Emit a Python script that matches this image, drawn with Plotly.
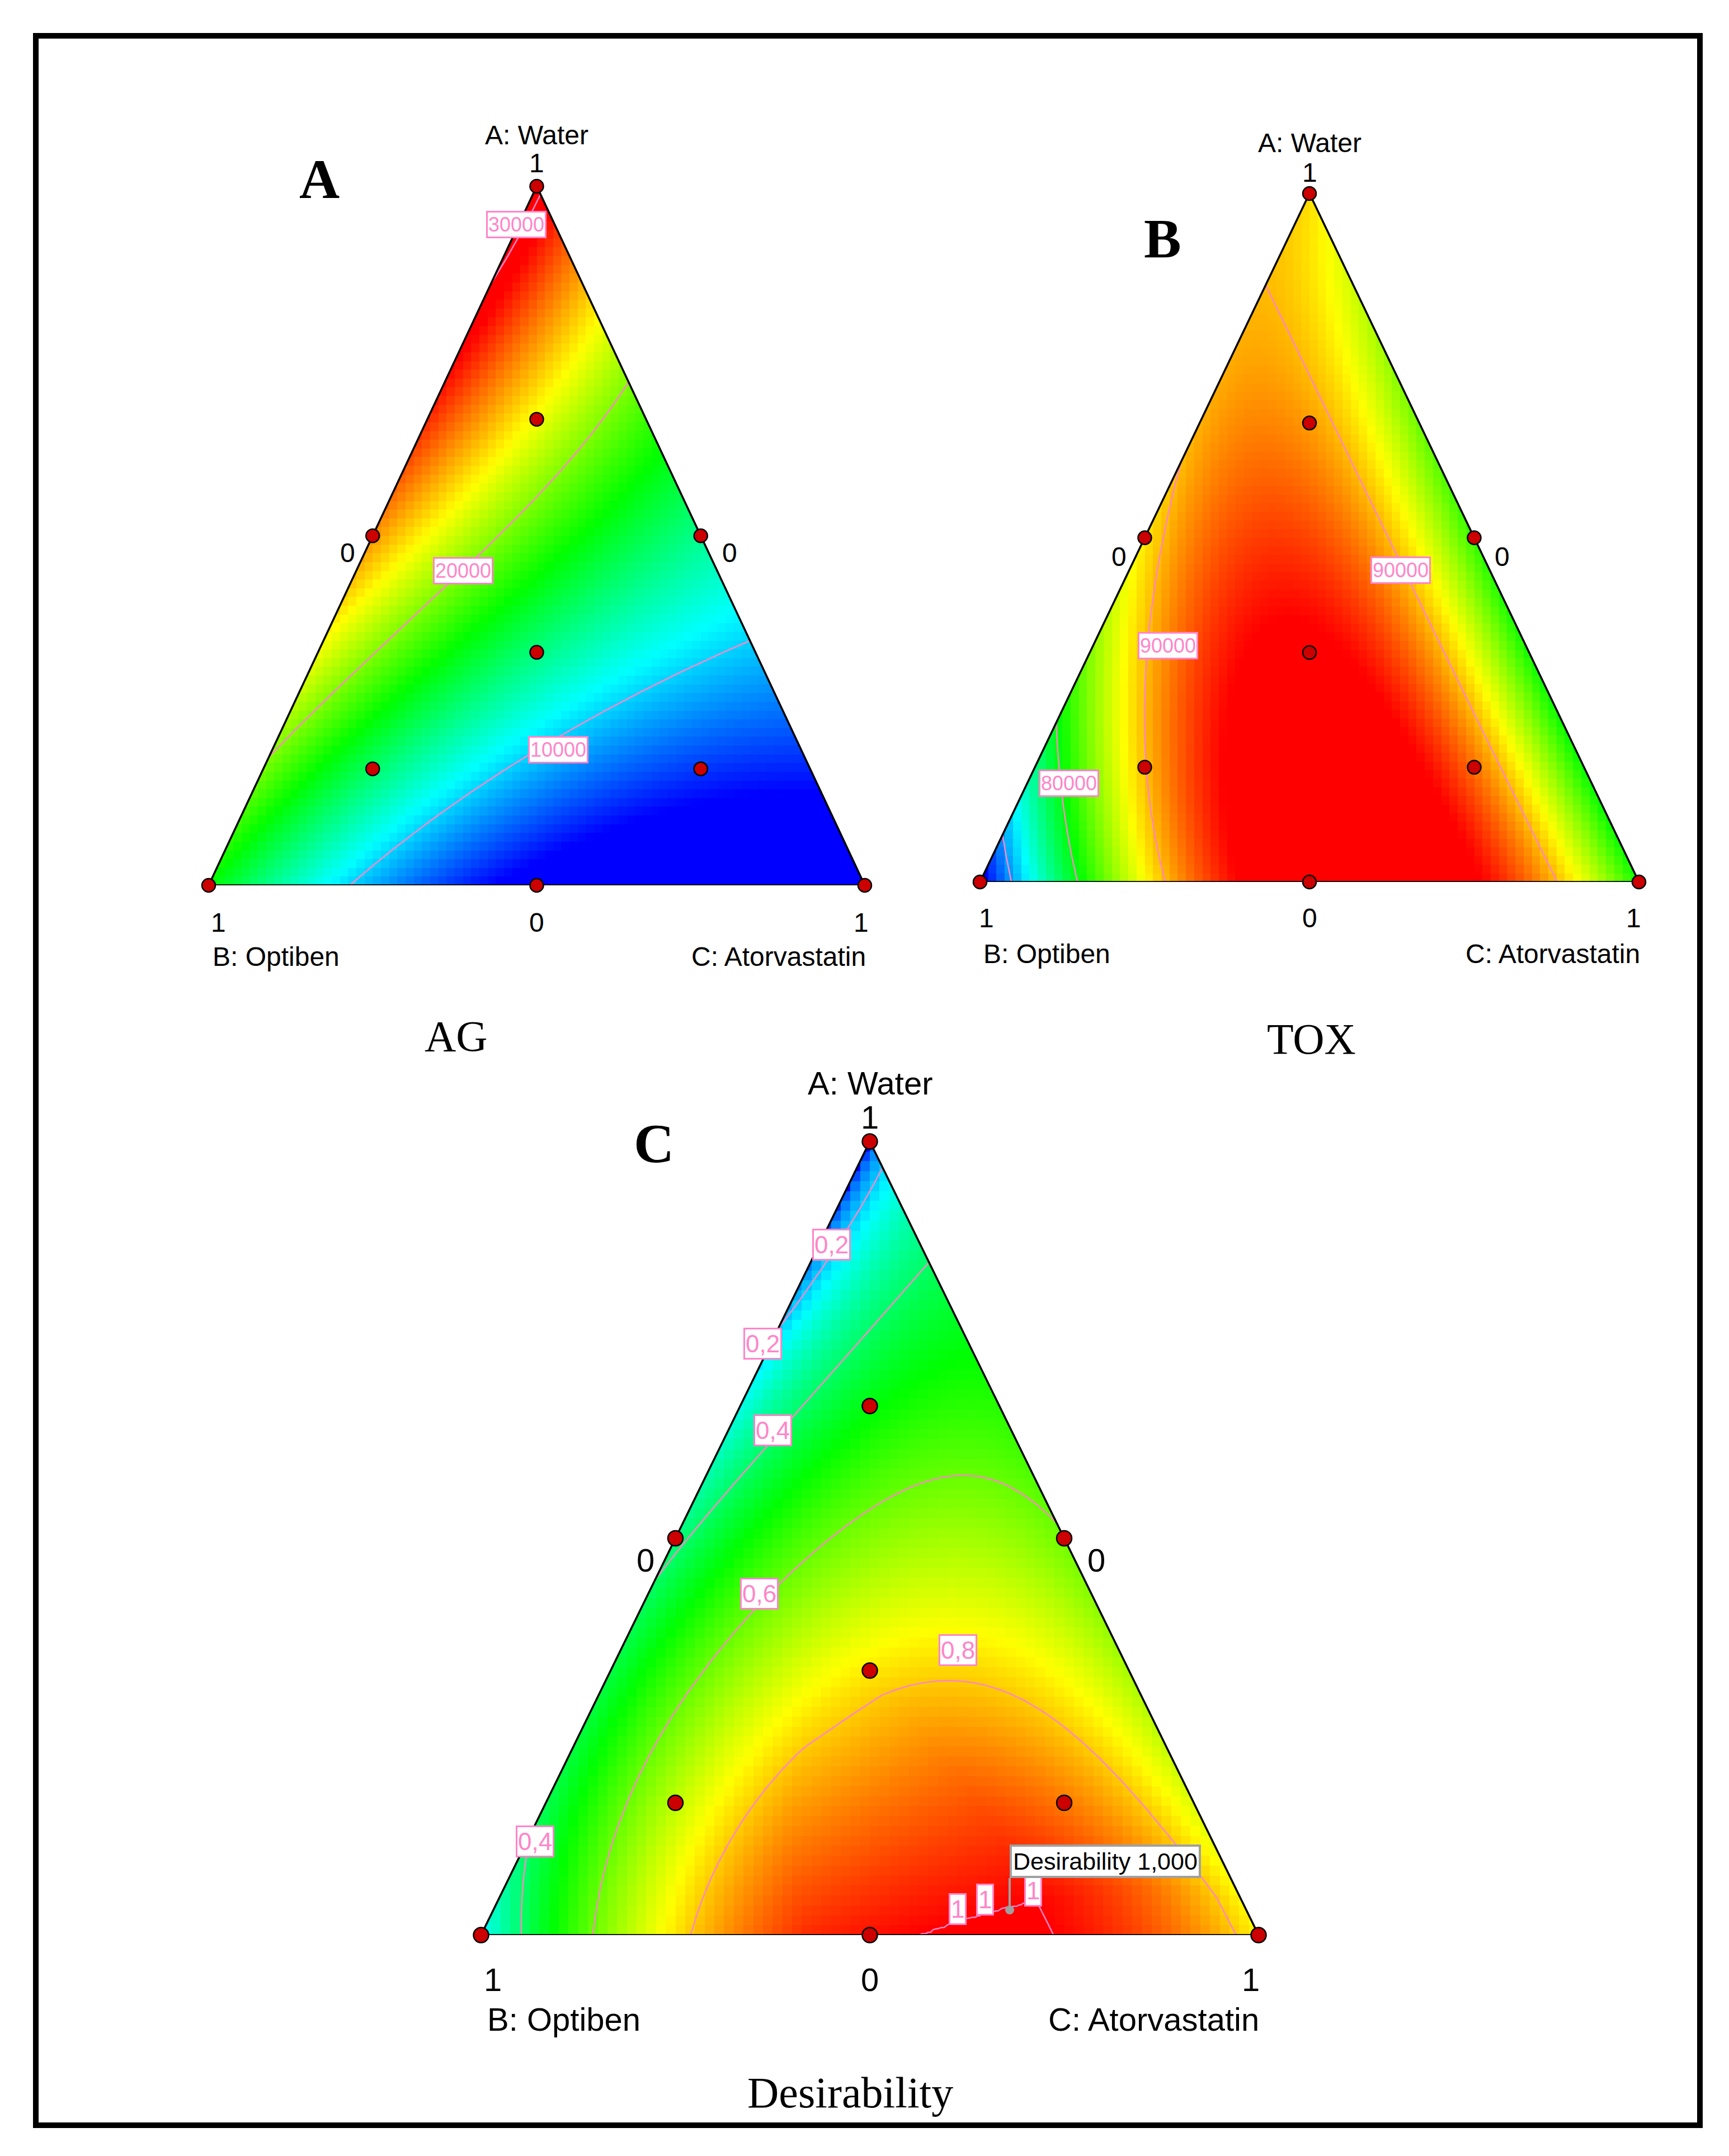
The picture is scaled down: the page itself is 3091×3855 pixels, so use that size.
import numpy as np
import plotly.graph_objects as go

W, H = 3091, 3855

# ---------------------------------------------------------------- data
components = ["A: Water", "B: Optiben", "C: Atorvastatin"]

# mixture design points (red dots): vertices, edge mid-points, centroid, axial blends
design_A = [1, 0, 0, 0.5, 0.5, 0, 1/3, 2/3, 1/6, 1/6]
design_B = [0, 1, 0, 0.5, 0, 0.5, 1/3, 1/6, 2/3, 1/6]
design_C = [0, 0, 1, 0, 0.5, 0.5, 1/3, 1/6, 1/6, 2/3]

# Scheffe cubic mixture models, coefficients estimated from the plotted surfaces
model_terms = ["A", "B", "C", "AB", "AC", "BC", "ABC", "AB(A-B)", "AC(A-C)", "BC(B-C)"]
AG_coef = [30500, 17000, 2000, 7229, -10230, -22364, 10000, 5995, -5160, 0]
TOX_coef = [89000, 64500, 81000, 47551, -12000, 102654, 70000, -14468, 0, 1277]

# desirability goals (kind, lower, upper)
AG_goal = ("minimize", 3000, 30500)
TOX_goal = ("maximize", 60000, 96500)

AG_levels = [10000, 20000, 30000]
TOX_levels = [70000, 80000, 90000]
D_levels = [0.2, 0.4, 0.6, 0.8, 1.0]

AG_label_text = ["30000", "20000", "10000"]
TOX_label_text = ["90000", "90000", "80000"]
D_label_text = ["0,2", "0,2", "0,4", "0,6", "0,8", "0,4", "1", "1", "1"]

vertex_tick = "1"
mid_tick = "0"
panel_titles = ["AG", "TOX", "Desirability"]
panel_letters = ["A", "B", "C"]

optimum_A, optimum_C = 0.0317, 0.664
optimum_text = "Desirability 1,000"

# ---------------------------------------------------------------- models
def model_terms_values(A, B, C):
    return [A, B, C, A * B, A * C, B * C, A * B * C,
            A * B * (A - B), A * C * (A - C), B * C * (B - C)]


def make_model(coef):
    def f(A, B, C):
        return sum(c * t for c, t in zip(coef, model_terms_values(A, B, C)))
    return f


AG_f = make_model(AG_coef)
TOX_f = make_model(TOX_coef)


def desir(val, goal):
    kind, lo, hi = goal
    d = (hi - val) / (hi - lo) if kind == "minimize" else (val - lo) / (hi - lo)
    return np.clip(d, 0.0, 1.0)


def D_f(A, B, C):
    return np.sqrt(desir(AG_f(A, B, C), AG_goal) * desir(TOX_f(A, B, C), TOX_goal))


# ---------------------------------------------------------------- contour tracing on a triangular lattice
def contour_xy(fun, level, N=150):
    idx = [(i, j) for i in range(N + 1) for j in range(N + 1 - i)]
    Aa = np.array([p[0] / N for p in idx])
    Ca = np.array([p[1] / N for p in idx])
    vals = dict(zip(idx, fun(Aa, 1 - Aa - Ca, Ca)))
    segs = []

    def tri(p, q, r):
        pts = []
        for a, b in ((p, q), (q, r), (r, p)):
            if (vals[a] < level) != (vals[b] < level):
                pts.append(tuple(sorted((a, b))))
        if len(pts) == 2:
            segs.append(pts)

    for i in range(N):
        for j in range(N - i):
            tri((i, j), (i + 1, j), (i, j + 1))
            if i + j + 1 < N:
                tri((i + 1, j), (i, j + 1), (i + 1, j + 1))

    adj = {}
    for k, (e1, e2) in enumerate(segs):
        adj.setdefault(e1, []).append(k)
        adj.setdefault(e2, []).append(k)
    used = [False] * len(segs)

    def walk(start, k):
        chain = [start]
        cur = start
        while k is not None:
            used[k] = True
            e1, e2 = segs[k]
            nxt = e2 if e1 == cur else e1
            chain.append(nxt)
            cur = nxt
            k = next((m for m in adj[cur] if not used[m]), None)
        return chain

    chains = []
    for e, ks in adj.items():
        if len(ks) == 1 and not used[ks[0]]:
            chains.append(walk(e, ks[0]))
    for k in range(len(segs)):
        if not used[k]:
            chains.append(walk(segs[k][0], k))

    xs, ys = [], []
    for ch in chains:
        for a, b in ch:
            va, vb = vals[a], vals[b]
            t = (level - va) / (vb - va)
            A_ = (a[0] + t * (b[0] - a[0])) / N
            C_ = (a[1] + t * (b[1] - a[1])) / N
            xs.append(C_ + A_ / 2)
            ys.append(A_)
        xs.append(None)
        ys.append(None)
    return xs, ys


# ---------------------------------------------------------------- panel layout (pixels)
RAINBOW = [[0, "#0000FF"], [0.25, "#00FFFF"], [0.5, "#00FF00"], [0.75, "#FFFF00"], [1, "#FF0000"]]
PINK = "#FF85C8"
SANS = "Liberation Sans, Arial, sans-serif"
SERIF = "Liberation Serif, Times New Roman, serif"

PANELS = [
    dict(fun=AG_f, levels=AG_levels, top_level=None, zr=(5000, 29000), box=(365, 1538, 325, 1575),
         font=48, marker=24, lab_font=36,
         labels=AG_label_text, lab_x=[0.469, 0.388, 0.533], lab_y=[0.945, 0.450, 0.194],
         top1=42, topname=92, mid=(-45, 52, -30), bot=(-66, 17, -7), comp=(-127, 5, 4),
         letter=(563, 312), title=(807, 1844)),
    dict(fun=TOX_f, levels=TOX_levels, top_level=None, zr=(65500, 95500), box=(1744, 2922, 338, 1569),
         font=48, marker=24, lab_font=36,
         labels=TOX_label_text, lab_x=[0.638, 0.285, 0.135], lab_y=[0.453, 0.343, 0.143],
         top1=38, topname=91, mid=(-46, 50, -34), bot=(-64, 12, -10), comp=(-128, 4, 4),
         letter=(2070, 418), title=(2336, 1849)),
    dict(fun=D_f, levels=D_levels, top_level=0.999, zr=(0, 1), box=(852, 2242, 2033, 3452),
         font=58, marker=27, lab_font=44,
         labels=D_label_text,
         lab_x=[0.451, 0.362, 0.375, 0.358, 0.613, 0.0697, 0.613, 0.648, 0.710],
         lab_y=[0.870, 0.745, 0.636, 0.430, 0.359, 0.118, 0.033, 0.045, 0.056],
         top1=44, topname=105, mid=(-54, 57, -39), bot=(-79, 21, -14), comp=(-150, 9, 3),
         letter=(1161, 2036), title=(1512, 3733)),
]

fig = go.Figure()
annotations = []
NX = NY = 80
gx = (np.arange(NX) + 0.5) / NX
gy = (np.arange(NY) + 0.5) / NY
GX, GY = np.meshgrid(gx, gy)

for i, p in enumerate(PANELS):
    sfx = "" if i == 0 else str(i + 1)
    xa, ya = "x" + sfx, "y" + sfx
    x0, x1, ytop, ybot = p["box"]
    fig.update_layout(**{
        "xaxis" + sfx: dict(domain=[x0 / W, x1 / W], range=[0, 1], visible=False,
                            fixedrange=True, anchor=ya),
        "yaxis" + sfx: dict(domain=[1 - ybot / H, 1 - ytop / H], range=[0, 1], visible=False,
                            fixedrange=True, anchor=xa),
    })

    # heat map of the response surface
    Ag = GY
    Cg = GX - GY / 2
    Bg = 1 - Ag - Cg
    Z = p["fun"](Ag, Bg, Cg)
    fig.add_trace(go.Heatmap(x=gx, y=gy, z=Z, colorscale=RAINBOW, zmin=p["zr"][0], zmax=p["zr"][1],
                             showscale=False, hoverinfo="skip", xaxis=xa, yaxis=ya))

    # white masks outside the simplex
    for mx, my in (([0, 0.5, 0.5, -0.2, -0.2, 0], [0, 1, 1.2, 1.2, 0, 0]),
                   ([1, 0.5, 0.5, 1.2, 1.2, 1], [0, 1, 1.2, 1.2, 0, 0])):
        fig.add_trace(go.Scatter(x=mx, y=my, fill="toself", fillcolor="white", mode="lines",
                                 line=dict(width=0, color="white"), hoverinfo="skip",
                                 showlegend=False, xaxis=xa, yaxis=ya))

    # contour lines
    for lev in p["levels"]:
        draw_lev = lev
        if p["top_level"] is not None and lev >= 1.0:
            draw_lev = p["top_level"]
        cx, cy = contour_xy(p["fun"], draw_lev)
        fig.add_trace(go.Scatter(x=cx, y=cy, mode="lines", line=dict(color=PINK, width=2.5),
                                 hoverinfo="skip", showlegend=False, cliponaxis=False,
                                 xaxis=xa, yaxis=ya))

    # triangle outline
    fig.add_trace(go.Scatter(x=[0, 1, 0.5, 0], y=[0, 0, 1, 0], mode="lines",
                             line=dict(color="black", width=3.5), hoverinfo="skip",
                             showlegend=False, cliponaxis=False, xaxis=xa, yaxis=ya))

    # design points
    dA = np.array(design_A)
    dC = np.array(design_C)
    fig.add_trace(go.Scatter(x=dC + dA / 2, y=dA, mode="markers",
                             marker=dict(size=p["marker"], color="#CC0000",
                                         line=dict(color="black", width=2.5)),
                             hoverinfo="skip", showlegend=False, cliponaxis=False,
                             xaxis=xa, yaxis=ya))

    fs = p["font"]

    def tx(text, x, y, xs=0, ys=0, xanchor="center", size=fs, **kw):
        annotations.append(dict(text=text, x=x, y=y, xref=xa, yref=ya, xshift=xs, yshift=ys,
                                showarrow=False, xanchor=xanchor, yanchor="middle",
                                font=dict(family=SANS, size=size, color="black"), **kw))

    # axis texts
    tx(vertex_tick, 0.5, 1, ys=p["top1"])
    tx(components[0], 0.5, 1, ys=p["topname"])
    tx(mid_tick, 0.25, 0.5, xs=p["mid"][0], ys=p["mid"][2])
    tx(mid_tick, 0.75, 0.5, xs=p["mid"][1], ys=p["mid"][2])
    tx(vertex_tick, 0, 0, xs=p["bot"][1], ys=p["bot"][0])
    tx(mid_tick, 0.5, 0, ys=p["bot"][0])
    tx(vertex_tick, 1, 0, xs=p["bot"][2], ys=p["bot"][0])
    tx(components[1], 0, 0, xs=p["comp"][1], ys=p["comp"][0], xanchor="left")
    tx(components[2], 1, 0, xs=p["comp"][2], ys=p["comp"][0], xanchor="right")

    # contour labels
    for t, lx, ly in zip(p["labels"], p["lab_x"], p["lab_y"]):
        annotations.append(dict(text=t, x=lx, y=ly, xref=xa, yref=ya, showarrow=False,
                                xanchor="center", yanchor="middle",
                                font=dict(family=SANS, size=p["lab_font"], color=PINK),
                                bgcolor="white", bordercolor=PINK, borderwidth=3, borderpad=1))

    # panel letter and title
    lx_, ly_ = p["letter"]
    annotations.append(dict(text=panel_letters[i], x=lx_ / W, y=1 - ly_ / H, xref="paper",
                            yref="paper", showarrow=False, xanchor="center", yanchor="middle",
                            font=dict(family=SERIF, size=100, color="black", weight="bold")))
    tx_, ty_ = p["title"]
    annotations.append(dict(text=panel_titles[i], x=tx_ / W, y=1 - ty_ / H, xref="paper",
                            yref="paper", showarrow=False, xanchor="center", yanchor="middle",
                            font=dict(family=SERIF, size=78, color="black")))

# optimum flag on the desirability panel
annotations.append(dict(text=optimum_text, x=optimum_C + optimum_A / 2, y=optimum_A,
                        xref="x3", yref="y3", showarrow=True, ax=0, ay=-57,
                        arrowhead=6, arrowsize=1, arrowwidth=4, arrowcolor="#A0A0A0",
                        xanchor="left", yanchor="bottom", bgcolor="white",
                        bordercolor="#A0A0A0", borderwidth=4, borderpad=2,
                        font=dict(family=SANS, size=43, color="black")))

fig.update_layout(
    width=W, height=H, margin=dict(l=0, r=0, t=0, b=0),
    paper_bgcolor="white", plot_bgcolor="white", showlegend=False,
    annotations=annotations,
    shapes=[dict(type="rect", xref="paper", yref="paper",
                 x0=56 / W, x1=3031 / W, y0=1 - 3792 / H, y1=1 - 56 / H,
                 line=dict(color="black", width=10), fillcolor="rgba(0,0,0,0)")],
)

fig.write_html("out.html")
